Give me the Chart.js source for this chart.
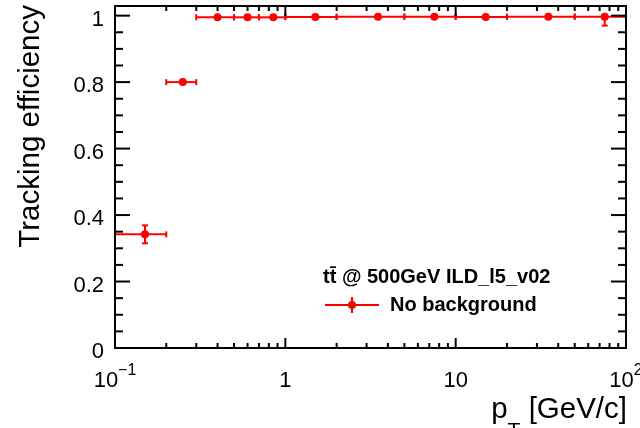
<!DOCTYPE html>
<html>
<head>
<meta charset="utf-8">
<script src="https://cdn.jsdelivr.net/npm/chart.js@4/dist/chart.umd.min.js"></script>
<style>
  html, body { margin: 0; padding: 0; background: #fff; }
  #wrap { width: 640px; height: 428px; }
</style>
</head>
<body>
<div id="wrap"><canvas id="effChart" width="640" height="428"></canvas></div>
<script>
// pT bins [GeV/c] and measured tracking efficiency
const binLow     = [0.1, 0.2, 0.3, 0.5, 0.7, 1, 2, 5, 10, 20, 50];
const binHigh    = [0.2, 0.3, 0.5, 0.7, 1, 2, 5, 10, 20, 50, 100];
const ptCenter   = [0.15, 0.25, 0.4, 0.6, 0.85, 1.5, 3.5, 7.5, 15, 35, 75];
const efficiency = [0.342, 0.800, 0.995, 0.995, 0.995, 0.996, 0.997, 0.997, 0.996, 0.997, 0.997];
const effErrLow  = [0.027, 0.012, 0.002, 0.002, 0.002, 0.001, 0.001, 0.001, 0.002, 0.002, 0.027];
const effErrHigh = [0.027, 0.012, 0.002, 0.002, 0.002, 0.001, 0.001, 0.001, 0.002, 0.002, 0.003];

const yTicks      = [0, 0.2, 0.4, 0.6, 0.8, 1];
const yTickLabels = ['0', '0.2', '0.4', '0.6', '0.8', '1'];
const xTicks      = [0.1, 1, 10, 100];
const xTickBase   = ['10', '1', '10', '10'];
const xTickExp    = ['\u22121', '', '', '2'];

const seriesLabel = 'No background';
const legendTitle = 'tt\u0304 @ 500GeV ILD_l5_v02';
const xTitle      = ['p', 'T', ' [GeV/c]'];
const yTitle      = 'Tracking efficiency';

(function(){
  const FONT = "'Liberation Sans', Arial, Helvetica, sans-serif";
  const RED = '#ff0000';
  const ctx = document.getElementById('effChart');

  function line(c, x1, y1, x2, y2){
    c.beginPath();
    c.moveTo(x1, y1);
    c.lineTo(x2, y2);
    c.stroke();
  }

  // error bars (x = bin width, y = stat. error), drawn under the markers
  const errorBars = {
    id: 'errorBars',
    beforeDatasetsDraw(chart){
      const c = chart.ctx, a = chart.chartArea;
      const xs = chart.scales.x, ys = chart.scales.y;
      c.save();
      c.beginPath();
      c.rect(a.left, a.top, a.right - a.left, a.bottom - a.top);
      c.clip();
      c.strokeStyle = RED;
      c.lineWidth = 2;
      ptCenter.forEach((pt, i) => {
        const xl = xs.getPixelForValue(binLow[i]);
        const xr = xs.getPixelForValue(binHigh[i]);
        const xc = xs.getPixelForValue(pt);
        const yc = ys.getPixelForValue(efficiency[i]);
        const yt = ys.getPixelForValue(efficiency[i] + effErrHigh[i]);
        const yb = ys.getPixelForValue(efficiency[i] - effErrLow[i]);
        line(c, xl, yc, xr, yc);
        line(c, xl, yc - 3, xl, yc + 3);
        line(c, xr, yc - 3, xr, yc + 3);
        if (yb - yt > 9) {
          line(c, xc, yt, xc, yb);
          line(c, xc - 3, yt, xc + 3, yt);
          line(c, xc - 3, yb, xc + 3, yb);
        }
      });
      c.restore();
    }
  };

  // ROOT-like frame: inward ticks on all four sides, labels, titles, legend box
  const rootFrame = {
    id: 'rootFrame',
    afterDraw(chart){
      const c = chart.ctx, a = chart.chartArea;
      const xs = chart.scales.x, ys = chart.scales.y;
      c.save();
      c.strokeStyle = '#000';
      c.lineWidth = 2;
      c.strokeRect(a.left, a.top, a.right - a.left, a.bottom - a.top);

      // x ticks
      for (let d = 0.1; d < 100; d *= 10) {
        for (let m = 1; m <= 9; m++) {
          if (m === 1 && d === 0.1) continue;
          const px = xs.getPixelForValue(d * m);
          const len = m === 1 ? 10 : 5;
          line(c, px, a.bottom, px, a.bottom - len);
          line(c, px, a.top, px, a.top + len);
        }
      }
      // y ticks
      for (let k = 0; k * 0.05 <= ys.max + 1e-9; k++) {
        const py = ys.getPixelForValue(k * 0.05);
        const len = k % 4 === 0 ? 15 : 8;
        line(c, a.left, py, a.left + len, py);
        line(c, a.right, py, a.right - len, py);
      }

      c.fillStyle = '#000';
      // y tick labels
      c.font = '22px ' + FONT;
      c.textAlign = 'right';
      c.textBaseline = 'middle';
      yTicks.forEach((v, i) => {
        c.fillText(yTickLabels[i], a.left - 11, ys.getPixelForValue(v) + 4);
      });

      // x tick labels with exponents
      c.textBaseline = 'alphabetic';
      c.textAlign = 'left';
      xTicks.forEach((v, i) => {
        c.font = '22px ' + FONT;
        const wb = c.measureText(xTickBase[i]).width;
        c.font = '16px ' + FONT;
        const we = xTickExp[i] ? c.measureText(xTickExp[i]).width : 0;
        const x0 = xs.getPixelForValue(v) - (wb + we) / 2;
        c.font = '22px ' + FONT;
        c.fillText(xTickBase[i], x0, a.bottom + 39);
        if (xTickExp[i]) {
          c.font = '16px ' + FONT;
          c.fillText(xTickExp[i], x0 + wb, a.bottom + 27);
        }
      });

      // x title, right aligned to the frame
      c.font = '29.5px ' + FONT;
      const w1 = c.measureText(xTitle[0]).width;
      const w3 = c.measureText(xTitle[2]).width;
      c.font = '21px ' + FONT;
      const w2 = c.measureText(xTitle[1]).width;
      const tx = a.right + 1 - (w1 + w2 + w3);
      c.font = '29.5px ' + FONT;
      c.fillText(xTitle[0], tx, 418);
      c.font = '21px ' + FONT;
      c.fillText(xTitle[1], tx + w1, 437);
      c.font = '29.5px ' + FONT;
      c.fillText(xTitle[2], tx + w1 + w2, 418);

      // y title, rotated and aligned to the top
      c.save();
      c.translate(39, a.top - 1);
      c.rotate(-Math.PI / 2);
      c.textAlign = 'right';
      c.font = '29.5px ' + FONT;
      c.fillText(yTitle, 0, 0);
      c.restore();

      // legend
      c.font = 'bold 20px ' + FONT;
      c.textAlign = 'left';
      c.fillText(legendTitle, 323, 283);
      c.strokeStyle = RED;
      c.fillStyle = RED;
      line(c, 325, 305, 379, 305);
      line(c, 352, 297, 352, 313);
      c.beginPath();
      c.arc(352, 305, 4, 0, Math.PI * 2);
      c.fill();
      c.fillStyle = '#000';
      c.font = 'bold 20px ' + FONT;
      c.fillText(seriesLabel, 390, 311);
      c.restore();
    }
  };

  new Chart(ctx, {
    type: 'scatter',
    data: {
      datasets: [{
        label: seriesLabel,
        data: ptCenter.map((x, i) => ({ x: x, y: efficiency[i] })),
        backgroundColor: RED,
        borderColor: RED,
        pointRadius: 4,
        pointHoverRadius: 4,
        borderWidth: 0,
        showLine: false
      }]
    },
    options: {
      responsive: false,
      animation: false,
      events: [],
      layout: { padding: { left: 115, right: 14, top: 6, bottom: 80 } },
      scales: {
        x: { type: 'logarithmic', min: 0.1, max: 100, display: false },
        y: { type: 'linear', min: 0, max: 1.029, display: false }
      },
      plugins: {
        legend: { display: false },
        tooltip: { enabled: false }
      }
    },
    plugins: [errorBars, rootFrame]
  });
})();
</script>
</body>
</html>
